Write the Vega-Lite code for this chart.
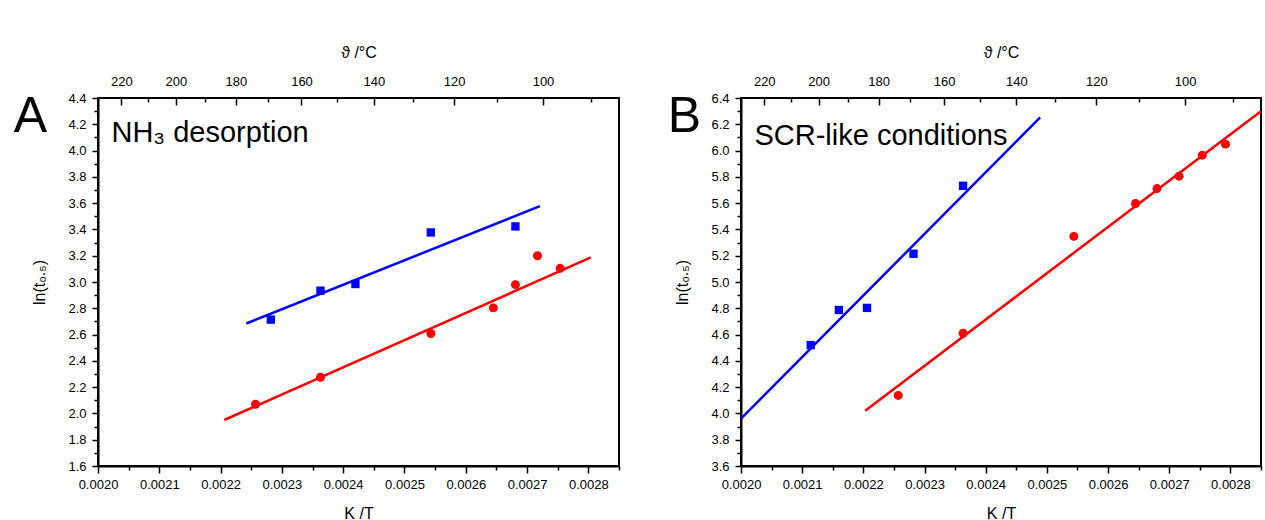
{
  "$schema": "https://vega.github.io/schema/vega-lite/v6.json",
  "padding": {"left": 12, "top": 43, "right": 0, "bottom": 0},
  "background": "white",
  "datasets": {
    "ptsA": [
      {"kt": 0.002282, "ln": 2.714, "s": "sq"},
      {"kt": 0.002363, "ln": 2.934, "s": "sq"},
      {"kt": 0.00242, "ln": 2.985, "s": "sq"},
      {"kt": 0.002543, "ln": 3.377, "s": "sq"},
      {"kt": 0.002681, "ln": 3.423, "s": "sq"},
      {"kt": 0.002257, "ln": 2.07, "s": "ci"},
      {"kt": 0.002363, "ln": 2.275, "s": "ci"},
      {"kt": 0.002543, "ln": 2.608, "s": "ci"},
      {"kt": 0.002645, "ln": 2.803, "s": "ci"},
      {"kt": 0.002681, "ln": 2.98, "s": "ci"},
      {"kt": 0.002717, "ln": 3.2, "s": "ci"},
      {"kt": 0.002754, "ln": 3.104, "s": "ci"}
    ],
    "linesA": [
      {"kt": 0.002242, "ln": 2.684, "s": "sq"},
      {"kt": 0.002721, "ln": 3.577, "s": "sq"},
      {"kt": 0.002206, "ln": 1.95, "s": "ci"},
      {"kt": 0.002804, "ln": 3.187, "s": "ci"}
    ],
    "ptsB": [
      {"kt": 0.002114, "ln": 4.52, "s": "sq"},
      {"kt": 0.00216, "ln": 4.787, "s": "sq"},
      {"kt": 0.002206, "ln": 4.803, "s": "sq"},
      {"kt": 0.002282, "ln": 5.215, "s": "sq"},
      {"kt": 0.002363, "ln": 5.732, "s": "sq"},
      {"kt": 0.002257, "ln": 4.137, "s": "ci"},
      {"kt": 0.002363, "ln": 4.61, "s": "ci"},
      {"kt": 0.002544, "ln": 5.347, "s": "ci"},
      {"kt": 0.002645, "ln": 5.597, "s": "ci"},
      {"kt": 0.00268, "ln": 5.711, "s": "ci"},
      {"kt": 0.002716, "ln": 5.805, "s": "ci"},
      {"kt": 0.002754, "ln": 5.965, "s": "ci"},
      {"kt": 0.002792, "ln": 6.049, "s": "ci"}
    ],
    "linesB": [
      {"kt": 0.002, "ln": 3.96, "s": "sq"},
      {"kt": 0.002489, "ln": 6.252, "s": "sq"},
      {"kt": 0.002203, "ln": 4.02, "s": "ci"},
      {"kt": 0.00285, "ln": 6.3, "s": "ci"}
    ],
    "textA": [
      {"kt": 0.002022, "ln": 4.13, "t": "NH₃ desorption"}
    ],
    "textB": [
      {"kt": 0.002022, "ln": 6.11, "t": "SCR-like conditions"}
    ],
    "letterA": [{"kt": 0.002, "ln": 4.14, "t": "A"}],
    "letterB": [{"kt": 0.002, "ln": 6.14, "t": "B"}]
  },
  "hconcat": [
    {
      "width": 521,
      "height": 368,
      "resolve": {"axis": {"x": "independent", "y": "independent"}},
      "layer": [
        {
          "data": {"name": "ptsA"},
          "mark": {"type": "point", "filled": true, "opacity": 1},
          "encoding": {
            "x": {"field": "kt", "type": "quantitative", "scale": {"domain": [0.002, 0.00285], "nice": false, "zero": false},
              "axis": {"orient": "bottom", "values": [0.002, 0.0021, 0.0022, 0.0023, 0.0024, 0.0025, 0.0026, 0.0027, 0.0028], "format": ".4f", "tickSize": 7, "labelPadding": 5, "labelFlush": false, "labelOverlap": false, "title": "K /T", "titlePadding": 14}},
            "y": {"field": "ln", "type": "quantitative", "scale": {"domain": [1.6, 4.4], "nice": false, "zero": false},
              "axis": {"orient": "left", "values": [1.6, 1.8, 2.0, 2.2, 2.4, 2.6, 2.8, 3.0, 3.2, 3.4, 3.6, 3.8, 4.0, 4.2, 4.4], "format": ".1f", "tickSize": 6, "labelPadding": 6, "labelFlush": false, "labelOverlap": false, "title": "ln(t₀.₅)", "titlePadding": 20}},
            "shape": {"field": "s", "type": "nominal", "scale": {"domain": ["sq", "ci"], "range": ["square", "circle"]}, "legend": null},
            "color": {"field": "s", "type": "nominal", "scale": {"domain": ["sq", "ci"], "range": ["#0000ff", "#ff0000"]}, "legend": null},
            "size": {"field": "s", "type": "nominal", "scale": {"domain": ["sq", "ci"], "range": [70, 80]}, "legend": null}
          }
        },
        {
          "data": {"name": "linesA"},
          "mark": {"type": "line", "strokeWidth": 2.5},
          "encoding": {
            "x": {"field": "kt", "type": "quantitative", "scale": {"domain": [0.002, 0.00285], "nice": false, "zero": false}, "axis": null},
            "y": {"field": "ln", "type": "quantitative", "scale": {"domain": [1.6, 4.4], "nice": false, "zero": false}, "axis": null},
            "color": {"field": "s", "type": "nominal", "scale": {"domain": ["sq", "ci"], "range": ["#0000ff", "#ff0000"]}, "legend": null},
            "detail": {"field": "s"}
          }
        },
        {
          "data": {"name": "ptsA"},
          "mark": {"type": "point", "opacity": 0},
          "encoding": {
            "x": {"field": "kt", "type": "quantitative", "scale": {"domain": [0.002, 0.00285], "nice": false, "zero": false},
              "axis": {"orient": "bottom", "values": [0.00205, 0.00215, 0.00225, 0.00235, 0.00245, 0.00255, 0.00265, 0.00275, 0.00285], "labels": false, "domain": false, "tickSize": 4, "title": null}},
            "y": {"field": "ln", "type": "quantitative", "scale": {"domain": [1.6, 4.4], "nice": false, "zero": false},
              "axis": {"orient": "left", "values": [1.7, 1.9, 2.1, 2.3, 2.5, 2.7, 2.9, 3.1, 3.3, 3.5, 3.7, 3.9, 4.1, 4.3], "labels": false, "domain": false, "tickSize": 4, "title": null}}
          }
        },
        {
          "data": {"name": "ptsA"},
          "mark": {"type": "point", "opacity": 0},
          "encoding": {
            "x": {"field": "kt", "type": "quantitative", "scale": {"domain": [0.002, 0.00285], "nice": false, "zero": false},
              "axis": {"orient": "top", "values": [0.002038, 0.002127, 0.002225, 0.002332, 0.00245, 0.002581, 0.002726], "ticks": false, "domain": false, "labelPadding": 10, "labelFlush": false, "labelOverlap": false,
                "labelExpr": "datum.value < 0.00208 ? '220' : datum.value < 0.00218 ? '200' : datum.value < 0.00228 ? '180' : datum.value < 0.00239 ? '160' : datum.value < 0.0025 ? '140' : datum.value < 0.00265 ? '120' : '100'",
                "title": "ϑ /°C", "titlePadding": 15}},
            "y": {"field": "ln", "type": "quantitative", "scale": {"domain": [1.6, 4.4], "nice": false, "zero": false}, "axis": null}
          }
        },
        {
          "data": {"name": "ptsA"},
          "mark": {"type": "point", "opacity": 0},
          "encoding": {
            "x": {"field": "kt", "type": "quantitative", "scale": {"domain": [0.002, 0.00285], "nice": false, "zero": false},
              "axis": {"orient": "top", "offset": -7, "values": [0.002038, 0.002127, 0.002225, 0.002332, 0.00245, 0.002581, 0.002726], "labels": false, "domain": false, "tickSize": 7, "title": null}},
            "y": {"field": "ln", "type": "quantitative", "scale": {"domain": [1.6, 4.4], "nice": false, "zero": false}, "axis": null}
          }
        },
        {
          "data": {"name": "ptsA"},
          "mark": {"type": "point", "opacity": 0},
          "encoding": {
            "x": {"field": "kt", "type": "quantitative", "scale": {"domain": [0.002, 0.00285], "nice": false, "zero": false},
              "axis": {"orient": "top", "offset": -4, "values": [0.002082, 0.002175, 0.002277, 0.00239, 0.002514, 0.002651, 0.002805], "labels": false, "domain": false, "tickSize": 4, "title": null}},
            "y": {"field": "ln", "type": "quantitative", "scale": {"domain": [1.6, 4.4], "nice": false, "zero": false}, "axis": null}
          }
        },
        {
          "data": {"name": "textA"},
          "mark": {"type": "text", "align": "left", "baseline": "middle", "fontSize": 29, "color": "#000"},
          "encoding": {
            "x": {"field": "kt", "type": "quantitative", "scale": {"domain": [0.002, 0.00285], "nice": false, "zero": false}, "axis": null},
            "y": {"field": "ln", "type": "quantitative", "scale": {"domain": [1.6, 4.4], "nice": false, "zero": false}, "axis": null},
            "text": {"field": "t"}
          }
        },
        {
          "data": {"name": "letterA"},
          "mark": {"type": "text", "align": "right", "baseline": "alphabetic", "fontSize": 50, "dx": -51, "color": "#000"},
          "encoding": {
            "x": {"field": "kt", "type": "quantitative", "scale": {"domain": [0.002, 0.00285], "nice": false, "zero": false}, "axis": null},
            "y": {"field": "ln", "type": "quantitative", "scale": {"domain": [1.6, 4.4], "nice": false, "zero": false}, "axis": null},
            "text": {"field": "t"}
          }
        }
      ]
    },
    {
      "width": 520,
      "height": 368,
      "resolve": {"axis": {"x": "independent", "y": "independent"}},
      "layer": [
        {
          "data": {"name": "ptsB"},
          "mark": {"type": "point", "filled": true, "opacity": 1},
          "encoding": {
            "x": {"field": "kt", "type": "quantitative", "scale": {"domain": [0.002, 0.00285], "nice": false, "zero": false},
              "axis": {"orient": "bottom", "values": [0.002, 0.0021, 0.0022, 0.0023, 0.0024, 0.0025, 0.0026, 0.0027, 0.0028], "format": ".4f", "tickSize": 7, "labelPadding": 5, "labelFlush": false, "labelOverlap": false, "title": "K /T", "titlePadding": 14}},
            "y": {"field": "ln", "type": "quantitative", "scale": {"domain": [3.6, 6.4], "nice": false, "zero": false},
              "axis": {"orient": "left", "values": [3.6, 3.8, 4.0, 4.2, 4.4, 4.6, 4.8, 5.0, 5.2, 5.4, 5.6, 5.8, 6.0, 6.2, 6.4], "format": ".1f", "tickSize": 6, "labelPadding": 6, "labelFlush": false, "labelOverlap": false, "title": "ln(t₀.₅)", "titlePadding": 20}},
            "shape": {"field": "s", "type": "nominal", "scale": {"domain": ["sq", "ci"], "range": ["square", "circle"]}, "legend": null},
            "color": {"field": "s", "type": "nominal", "scale": {"domain": ["sq", "ci"], "range": ["#0000ff", "#ff0000"]}, "legend": null},
            "size": {"field": "s", "type": "nominal", "scale": {"domain": ["sq", "ci"], "range": [70, 80]}, "legend": null}
          }
        },
        {
          "data": {"name": "linesB"},
          "mark": {"type": "line", "strokeWidth": 2.5},
          "encoding": {
            "x": {"field": "kt", "type": "quantitative", "scale": {"domain": [0.002, 0.00285], "nice": false, "zero": false}, "axis": null},
            "y": {"field": "ln", "type": "quantitative", "scale": {"domain": [3.6, 6.4], "nice": false, "zero": false}, "axis": null},
            "color": {"field": "s", "type": "nominal", "scale": {"domain": ["sq", "ci"], "range": ["#0000ff", "#ff0000"]}, "legend": null},
            "detail": {"field": "s"}
          }
        },
        {
          "data": {"name": "ptsB"},
          "mark": {"type": "point", "opacity": 0},
          "encoding": {
            "x": {"field": "kt", "type": "quantitative", "scale": {"domain": [0.002, 0.00285], "nice": false, "zero": false},
              "axis": {"orient": "bottom", "values": [0.00205, 0.00215, 0.00225, 0.00235, 0.00245, 0.00255, 0.00265, 0.00275, 0.00285], "labels": false, "domain": false, "tickSize": 4, "title": null}},
            "y": {"field": "ln", "type": "quantitative", "scale": {"domain": [3.6, 6.4], "nice": false, "zero": false},
              "axis": {"orient": "left", "values": [3.7, 3.9, 4.1, 4.3, 4.5, 4.7, 4.9, 5.1, 5.3, 5.5, 5.7, 5.9, 6.1, 6.3], "labels": false, "domain": false, "tickSize": 4, "title": null}}
          }
        },
        {
          "data": {"name": "ptsB"},
          "mark": {"type": "point", "opacity": 0},
          "encoding": {
            "x": {"field": "kt", "type": "quantitative", "scale": {"domain": [0.002, 0.00285], "nice": false, "zero": false},
              "axis": {"orient": "top", "values": [0.002038, 0.002127, 0.002225, 0.002332, 0.00245, 0.002581, 0.002726], "ticks": false, "domain": false, "labelPadding": 10, "labelFlush": false, "labelOverlap": false,
                "labelExpr": "datum.value < 0.00208 ? '220' : datum.value < 0.00218 ? '200' : datum.value < 0.00228 ? '180' : datum.value < 0.00239 ? '160' : datum.value < 0.0025 ? '140' : datum.value < 0.00265 ? '120' : '100'",
                "title": "ϑ /°C", "titlePadding": 15}},
            "y": {"field": "ln", "type": "quantitative", "scale": {"domain": [3.6, 6.4], "nice": false, "zero": false}, "axis": null}
          }
        },
        {
          "data": {"name": "ptsB"},
          "mark": {"type": "point", "opacity": 0},
          "encoding": {
            "x": {"field": "kt", "type": "quantitative", "scale": {"domain": [0.002, 0.00285], "nice": false, "zero": false},
              "axis": {"orient": "top", "offset": -7, "values": [0.002038, 0.002127, 0.002225, 0.002332, 0.00245, 0.002581, 0.002726], "labels": false, "domain": false, "tickSize": 7, "title": null}},
            "y": {"field": "ln", "type": "quantitative", "scale": {"domain": [3.6, 6.4], "nice": false, "zero": false}, "axis": null}
          }
        },
        {
          "data": {"name": "ptsB"},
          "mark": {"type": "point", "opacity": 0},
          "encoding": {
            "x": {"field": "kt", "type": "quantitative", "scale": {"domain": [0.002, 0.00285], "nice": false, "zero": false},
              "axis": {"orient": "top", "offset": -4, "values": [0.002082, 0.002175, 0.002277, 0.00239, 0.002514, 0.002651, 0.002805], "labels": false, "domain": false, "tickSize": 4, "title": null}},
            "y": {"field": "ln", "type": "quantitative", "scale": {"domain": [3.6, 6.4], "nice": false, "zero": false}, "axis": null}
          }
        },
        {
          "data": {"name": "textB"},
          "mark": {"type": "text", "align": "left", "baseline": "middle", "fontSize": 29, "color": "#000"},
          "encoding": {
            "x": {"field": "kt", "type": "quantitative", "scale": {"domain": [0.002, 0.00285], "nice": false, "zero": false}, "axis": null},
            "y": {"field": "ln", "type": "quantitative", "scale": {"domain": [3.6, 6.4], "nice": false, "zero": false}, "axis": null},
            "text": {"field": "t"}
          }
        },
        {
          "data": {"name": "letterB"},
          "mark": {"type": "text", "align": "right", "baseline": "alphabetic", "fontSize": 50, "dx": -40, "color": "#000"},
          "encoding": {
            "x": {"field": "kt", "type": "quantitative", "scale": {"domain": [0.002, 0.00285], "nice": false, "zero": false}, "axis": null},
            "y": {"field": "ln", "type": "quantitative", "scale": {"domain": [3.6, 6.4], "nice": false, "zero": false}, "axis": null},
            "text": {"field": "t"}
          }
        }
      ]
    }
  ],
  "config": {
    "font": "Liberation Sans",
    "view": {"stroke": "#000", "strokeWidth": 2},
    "axis": {"domainColor": "#000", "domainWidth": 2, "tickColor": "#000", "tickWidth": 1.5, "labelColor": "#000", "labelFontSize": 13, "titleFontSize": 16, "titleFontWeight": "normal", "titleColor": "#000", "grid": false},
    "concat": {"spacing": 45}
  }
}
